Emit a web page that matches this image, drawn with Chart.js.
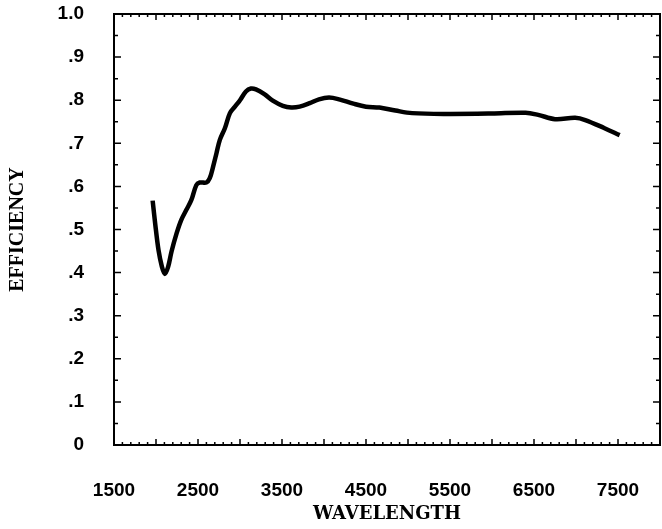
<!DOCTYPE html>
<html>
<head>
<meta charset="utf-8">
<script src="https://cdn.jsdelivr.net/npm/chart.js@4/dist/chart.umd.min.js"></script>
<style>
  html, body { margin: 0; padding: 0; background: #fff; }
  #wrap { width: 662px; height: 529px; }
</style>
</head>
<body>
<div id="wrap"><canvas id="effChart"></canvas></div>
<script>
// wavelength (x) and efficiency (y)
const wavelength = [1960, 1990, 2030, 2070, 2105, 2145, 2185, 2245, 2300, 2360, 2420, 2480,
  2520, 2600, 2640, 2680, 2720, 2760, 2820, 2880, 2940, 3000, 3070, 3130, 3190, 3290, 3390,
  3510, 3610, 3710, 3830, 3940, 4060, 4180, 4350, 4500, 4660, 4850, 5050, 5450, 6000, 6400,
  6550, 6750, 6990, 7110, 7340, 7520]
const efficiency = [0.567, 0.514, 0.452, 0.414, 0.397, 0.414, 0.449, 0.491, 0.522, 0.545, 0.568, 0.603,
  0.609, 0.609, 0.619, 0.646, 0.677, 0.708, 0.735, 0.770, 0.785, 0.800, 0.820, 0.827, 0.825, 0.814, 0.799,
  0.787, 0.783, 0.785, 0.793, 0.802, 0.806, 0.802, 0.792, 0.785, 0.783, 0.776, 0.770, 0.768, 0.769, 0.771,
  0.766, 0.756, 0.759, 0.754, 0.735, 0.719]

const xTickValues = [1500, 2500, 3500, 4500, 5500, 6500, 7500]
const yTickValues = [0, 0.1, 0.2, 0.3, 0.4, 0.5, 0.6, 0.7, 0.8, 0.9, 1.0]
const yTickLabels = ['0', '.1', '.2', '.3', '.4', '.5', '.6', '.7', '.8', '.9', '1.0']

const tickFont = { family: 'Liberation Sans', size: 19, weight: 'bold' }

// box around the plot with little inward ticks on all four sides
const framePlugin = {
  id: 'frame',
  afterDraw (chart) {
    const { ctx, chartArea: a, scales } = chart
    const xs = scales.x
    const ys = scales.y
    ctx.save()
    ctx.strokeStyle = '#000'
    ctx.lineWidth = 2
    ctx.strokeRect(a.left, a.top, a.right - a.left, a.bottom - a.top)
    ctx.lineWidth = 1.5
    ctx.beginPath()
    for (let v = xs.min; v <= xs.max; v += 100) {
      const px = xs.getPixelForValue(v)
      const len = v % 500 === 0 ? 6 : 3
      ctx.moveTo(px, a.bottom)
      ctx.lineTo(px, a.bottom - len)
      ctx.moveTo(px, a.top)
      ctx.lineTo(px, a.top + len)
    }
    for (let i = 0; i <= 20; i++) {
      const py = ys.getPixelForValue(i * 0.05)
      const len = i % 2 === 0 ? 7 : 4
      ctx.moveTo(a.left, py)
      ctx.lineTo(a.left + len, py)
      ctx.moveTo(a.right, py)
      ctx.lineTo(a.right - len, py)
    }
    ctx.stroke()
    ctx.restore()
  }
}

new Chart(document.getElementById('effChart'), {
  type: 'line',
  data: {
    datasets: [{
      data: wavelength.map((w, i) => ({ x: w, y: efficiency[i] })),
      borderColor: '#000',
      borderWidth: 4.5,
      pointRadius: 0,
      tension: 0.35,
      fill: false
    }]
  },
  options: {
    responsive: true,
    maintainAspectRatio: false,
    animation: false,
    layout: { padding: { left: 0, right: 2, top: 14, bottom: 0 } },
    plugins: {
      legend: { display: false },
      tooltip: { enabled: false }
    },
    scales: {
      x: {
        type: 'linear',
        min: 1500,
        max: 8000,
        afterFit (scale) {
          scale.height = 84
          scale.paddingLeft = 0
          scale.paddingRight = 0
        },
        afterBuildTicks (scale) { scale.ticks = xTickValues.map(v => ({ value: v })) },
        grid: { display: false, drawTicks: false },
        border: { display: false },
        ticks: {
          font: tickFont,
          color: '#000',
          padding: 34,
          maxRotation: 0,
          autoSkip: false,
          callback: v => String(v)
        },
        title: {
          display: true,
          text: 'WAVELENGTH',
          color: '#000',
          font: { family: 'DejaVu Serif', size: 18, weight: 'bold' },
          padding: { top: 0, bottom: 4 }
        }
      },
      y: {
        min: 0,
        max: 1,
        afterFit (scale) {
          scale.width = 114
          scale.paddingTop = 0
          scale.paddingBottom = 0
        },
        afterBuildTicks (scale) { scale.ticks = yTickValues.map(v => ({ value: v })) },
        grid: { display: false, drawTicks: false },
        border: { display: false },
        ticks: {
          font: tickFont,
          color: '#000',
          padding: 30,
          autoSkip: false,
          callback: (v, i) => yTickLabels[i]
        },
        title: {
          display: true,
          text: 'EFFICIENCY',
          color: '#000',
          font: { family: 'Liberation Serif', size: 20, weight: 'bold' },
          padding: { top: 6, bottom: 0 }
        }
      }
    }
  },
  plugins: [framePlugin]
})
</script>
</body>
</html>
